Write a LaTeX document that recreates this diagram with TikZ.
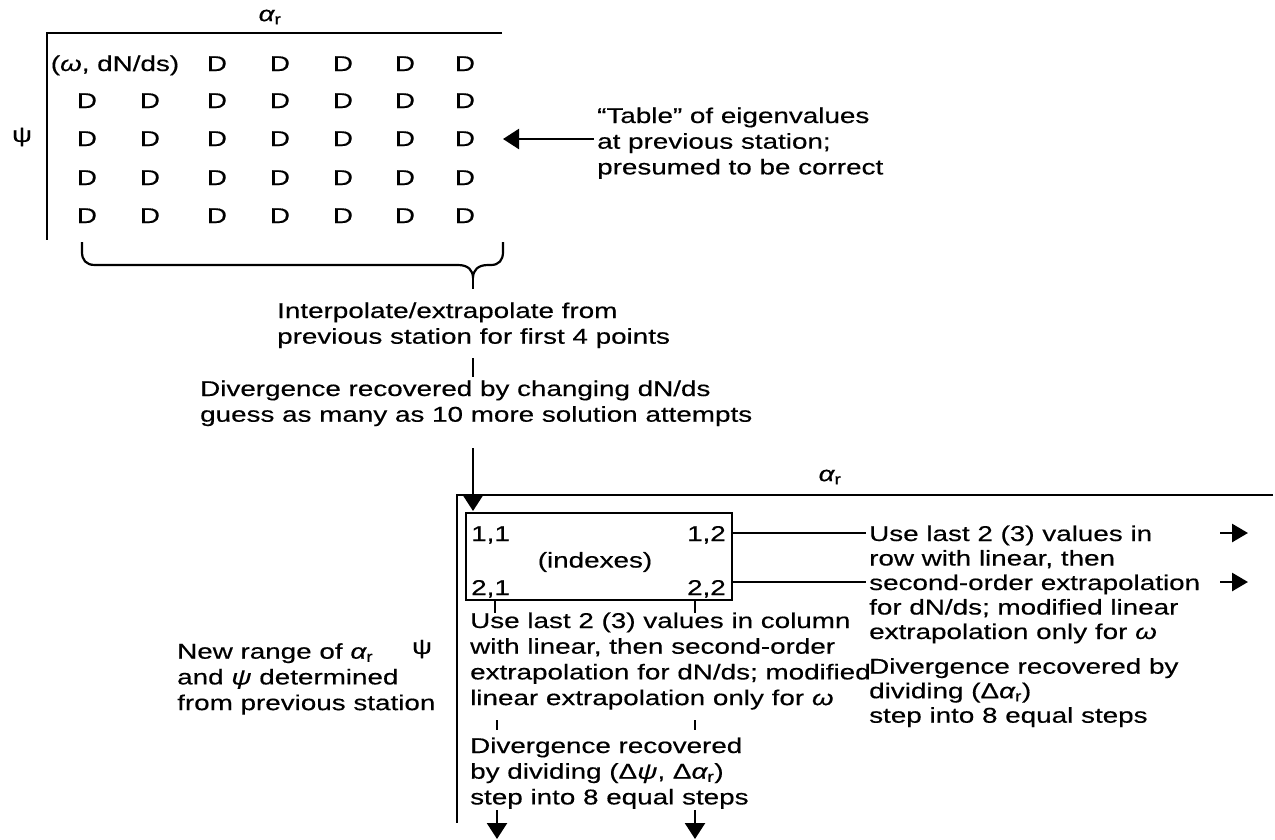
\documentclass[tikz,border=0pt]{standalone}
\usepackage{fontspec}
\setmainfont{Liberation Sans}[FakeStretch=1.3,FakeBold=0.4]
\usetikzlibrary{arrows.meta}
\newcommand{\fsz}{\fontsize{21.4}{25.7}\selectfont}
\newcommand{\fszb}{\fontsize{21.4}{24.5}\selectfont}
\newcommand{\ar}{{\itshape α}\textsubscript{r}}
\newcommand{\gk}[1]{{\itshape #1}}
\tikzset{
  txt/.style={inner sep=0pt, align=left, font=\fsz, anchor=base west},
  txtb/.style={inner sep=0pt, align=left, font=\fszb, anchor=base west},
  ent/.style={inner sep=0pt, font=\fsz, anchor=base},
  frame/.style={line width=2.6pt},
  conn/.style={line width=2.2pt},
  arr/.style={line width=2.4pt, -{Triangle[length=16pt,width=20pt]}},
  sarr/.style={line width=2.8pt, -{Triangle[length=16pt,width=18pt]}},
  boxstyle/.style={draw, line width=2.6pt, minimum width=266pt, minimum height=87pt, inner sep=0pt}
}
\begin{document}
\begin{tikzpicture}[x=1pt,y=-1pt]
\useasboundingbox (0,0) rectangle (1275,839);
% ---------- top table ----------
\node[ent,anchor=center] (ar1) at (270,17) {\ar};
\node[ent,anchor=center] (psi1) at (22,137) {ψ};
\coordinate (f1c) at (47,33);
\coordinate (f1r) at (502,33);
\coordinate (f1b) at (47,240);
\draw[frame] (f1r) -- (f1c) -- (f1b);
\node[ent] (wd) at (115,71) {(\gk{ω}, dN/ds)};
\foreach \c/\x in {3/217,4/280,5/343,6/405,7/465}{
  \node[ent] (d1\c) at (\x,71) {D};
}
\foreach \r/\y in {2/108,3/146,4/185,5/223}{
  \foreach \c/\x in {1/87,2/150,3/217,4/280,5/343,6/405,7/465}{
    \node[ent] (d\r\c) at (\x,\y) {D};
  }
}
% multi-line nodes: base = baseline of the last line
\node[txt] (tbl) at (597,174.4) {“Table” of eigenvalues\\at previous station;\\presumed to be correct};
\coordinate (tA) at (594,139);
\coordinate (tB) at (503,139);
\draw[arr] (tA) -- (tB);
% brace
\coordinate (bc) at (473,278);
\draw[conn] (82,242) -- (82,252) .. controls (82,260) and (86,265) .. (95,265) -- (458,265)
  .. controls (468,265) and (473,270) .. (bc)
  .. controls (473,270) and (478,265) .. (488,265) -- (491,265)
  .. controls (499,265) and (503,260) .. (503,252) -- (503,242);
\coordinate (bs) at (473,289);
\draw[conn] (bc) -- (bs);
\node[txt] (interp) at (277,343.7) {Interpolate/extrapolate from\\previous station for first 4 points};
\coordinate (t1a) at (473,358);
\coordinate (t1b) at (473,377);
\draw[conn] (t1a) -- (t1b);
\node[txt] (div1) at (200,421.7) {Divergence recovered by changing dN/ds\\guess as many as 10 more solution attempts};
\coordinate (a1a) at (473,448);
\coordinate (a1b) at (473,511);
% ---------- second frame ----------
\coordinate (f2r) at (1273,495);
\coordinate (f2c) at (457,495);
\coordinate (f2b) at (457,823);
\draw[frame] (f2r) -- (f2c) -- (f2b);
\draw[arr] (a1a) -- (a1b);
\node[ent,anchor=center] (ar2) at (830,477) {\ar};
\node[ent,anchor=center] (psi2) at (422,649) {ψ};
\node[txt] (newr) at (177,710.1) {New range of \ar\\and \gk{ψ} determined\\from previous station};
% box
\node[boxstyle] (box) at (599,556.5) {};
\node[ent] (i11) at (471,541) [anchor=base west] {1,1};
\node[ent] (i12) at (726,541) [anchor=base east] {1,2};
\node[ent,anchor=center] (idx) at (595,562) {(indexes)};
\node[ent] (i21) at (471,595) [anchor=base west] {2,1};
\node[ent] (i22) at (726,595) [anchor=base east] {2,2};
% right connectors
\coordinate (c1a) at (733,533);
\coordinate (c1b) at (866,533);
\coordinate (c2a) at (733,582);
\coordinate (c2b) at (866,582);
\draw[conn] (c1a) -- (c1b);
\draw[conn] (c2a) -- (c2b);
\node[txtb] (rowt) at (869,639) {Use last 2 (3) values in\\row with linear, then\\second-order extrapolation\\for dN/ds; modified linear\\extrapolation only for \gk{ω}};
\node[txtb] (div3) at (869,722.7) {Divergence recovered by\\dividing (Δ\ar)\\step into 8 equal steps};
\coordinate (r1a) at (1220,533);
\coordinate (r1b) at (1248,533);
\coordinate (r2a) at (1220,582);
\coordinate (r2b) at (1248,582);
\draw[sarr] (r1a) -- (r1b);
\draw[sarr] (r2a) -- (r2b);
% below box
\coordinate (k1a) at (495,601);
\coordinate (k1b) at (495,613);
\coordinate (k2a) at (695,601);
\coordinate (k2b) at (695,613);
\draw[conn] (k1a) -- (k1b);
\draw[conn] (k2a) -- (k2b);
\node[txt] (colt) at (470,705.1) {Use last 2 (3) values in column\\with linear, then second-order\\extrapolation for dN/ds; modified\\linear extrapolation only for \gk{ω}};
\coordinate (m1a) at (497,720);
\coordinate (m1b) at (497,730);
\coordinate (m2a) at (695,720);
\coordinate (m2b) at (695,730);
\draw[conn] (m1a) -- (m1b);
\draw[conn] (m2a) -- (m2b);
\node[txt] (div2) at (470,804.4) {Divergence recovered\\by dividing (Δ\gk{ψ}, Δ\ar)\\step into 8 equal steps};
\coordinate (b1a) at (497,810);
\coordinate (b1b) at (497,839);
\coordinate (b2a) at (695,810);
\coordinate (b2b) at (695,839);
\draw[arr] (b1a) -- (b1b);
\draw[arr] (b2a) -- (b2b);
\end{tikzpicture}
\end{document}
